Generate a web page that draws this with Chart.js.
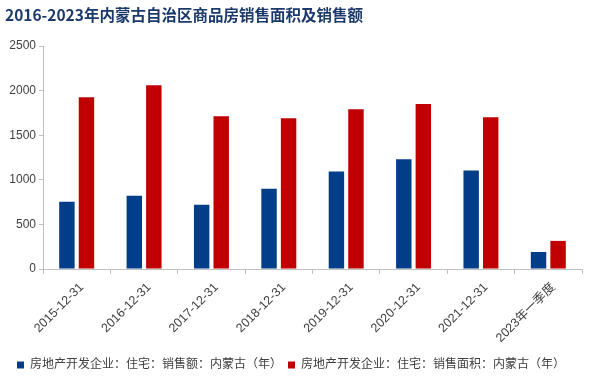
<!DOCTYPE html>
<html>
<head>
<meta charset="utf-8">
<script src="https://cdn.jsdelivr.net/npm/chart.js@4/dist/chart.umd.min.js"></script>
<style>
html, body { margin: 0; padding: 0; background: #fff; }
#wrap { width: 597px; height: 384px; position: relative; }
</style>
</head>
<body>
<div id="wrap"><canvas id="grafico"></canvas></div>
<script>
// datos
var categorias = ['2015-12-31','2016-12-31','2017-12-31','2018-12-31','2019-12-31','2020-12-31','2021-12-31','2023年一季度'];
var ventasMonto = [754, 822, 721, 901, 1092, 1230, 1104, 191];
var ventasArea = [1926, 2061, 1712, 1689, 1790, 1850, 1700, 315];
var ticksY = [0, 500, 1000, 1500, 2000, 2500];
var nombreSerie1 = '房地产开发企业：住宅：销售额：内蒙古（年）';
var nombreSerie2 = '房地产开发企业：住宅：销售面积：内蒙古（年）';
var titulo = '2016-2023年内蒙古自治区商品房销售面积及销售额';

var fuente = "'Liberation Sans', Arial, 'Noto Sans CJK SC', sans-serif";

// titulo dibujado a mano arriba a la izquierda
var pluginTitulo = {
    id: 'titulo',
    afterDraw: function (chart) {
        var ctx = chart.ctx;
        ctx.save();
        ctx.font = "bold 15.5px 'Noto Sans CJK SC', sans-serif";
        ctx.fillStyle = '#1b3a6b';
        ctx.textBaseline = 'middle';
        ctx.textAlign = 'left';
        ctx.fillText(titulo, 5, 15);
        ctx.restore();
    }
};

var contexto = document.getElementById('grafico').getContext('2d');
var grafico = new Chart(contexto, {
    type: 'bar',
    data: {
        labels: categorias,
        datasets: [{
            label: nombreSerie1,
            data: ventasMonto,
            backgroundColor: '#023d8a',
            categoryPercentage: 0.58,
            barPercentage: 0.79
        }, {
            label: nombreSerie2,
            data: ventasArea,
            backgroundColor: '#c00000',
            categoryPercentage: 0.58,
            barPercentage: 0.79
        }]
    },
    options: {
        responsive: true,
        maintainAspectRatio: false,
        animation: false,
        layout: {
            padding: { top: 46, right: 15, bottom: 3, left: 0 }
        },
        plugins: {
            legend: {
                position: 'bottom',
                labels: {
                    boxWidth: 7,
                    boxHeight: 7,
                    padding: 6,
                    color: '#404040',
                    font: { family: fuente, size: 12 }
                }
            },
            tooltip: { enabled: false }
        },
        scales: {
            x: {
                grid: {
                    display: true,
                    drawOnChartArea: false,
                    drawTicks: true,
                    tickLength: 5,
                    color: '#bfbfbf'
                },
                border: { color: '#bfbfbf' },
                ticks: {
                    minRotation: 45,
                    maxRotation: 45,
                    padding: 6,
                    labelOffset: 5,
                    color: '#404040',
                    font: { family: fuente, size: 12.5 }
                },
                afterFit: function (escala) { escala.height = 84; }
            },
            y: {
                min: 0,
                max: 2500,
                afterBuildTicks: function (escala) {
                    escala.ticks = ticksY.map(function (v) { return { value: v }; });
                },
                grid: {
                    display: true,
                    drawOnChartArea: false,
                    drawTicks: true,
                    tickLength: 4,
                    color: '#bfbfbf'
                },
                border: { color: '#bfbfbf' },
                ticks: {
                    color: '#404040',
                    padding: 3,
                    font: { family: fuente, size: 12 },
                    callback: function (v) { return String(v); }
                },
                afterFit: function (escala) { escala.width = 43; }
            }
        }
    },
    plugins: [pluginTitulo]
});
</script>
</body>
</html>
